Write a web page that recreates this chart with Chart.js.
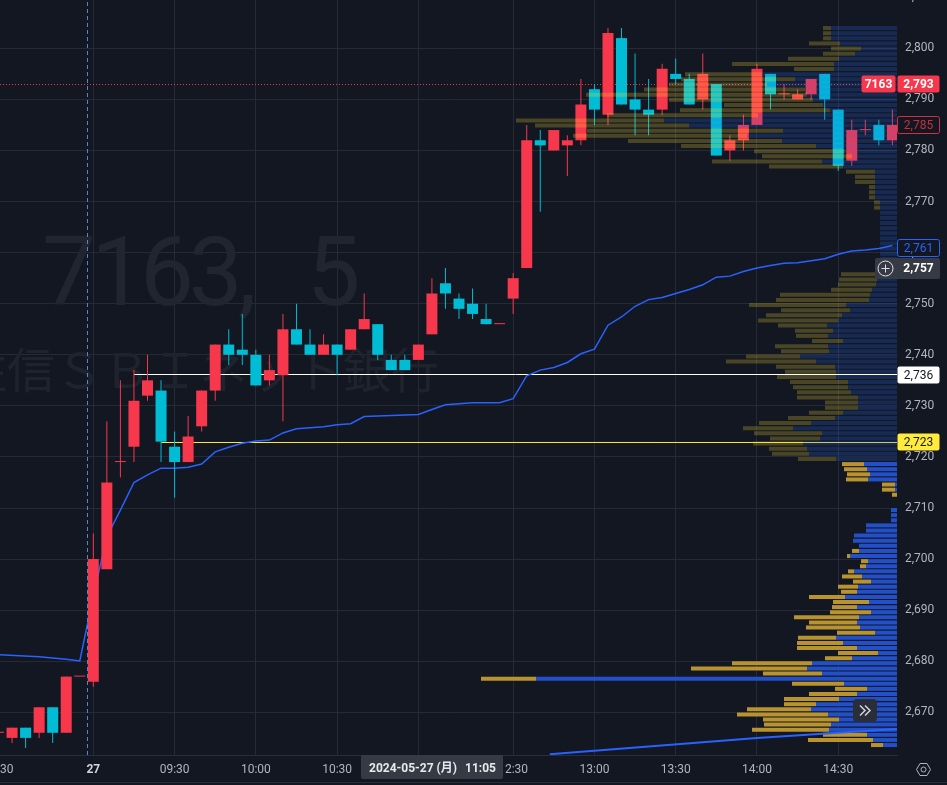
<!DOCTYPE html>
<html>
<head>
<meta charset="utf-8">
<style>
html,body{margin:0;padding:0;background:#131722;overflow:hidden}
canvas{display:block}
</style>
<script src="https://cdn.jsdelivr.net/npm/chart.js@4"></script>
</head>
<body>
<canvas id="chart" width="947" height="785"></canvas>
<script>
// 5 minute bars, index 0 is 09:00 on the 27th, first bar is index -7
var firstBar = -7;
var opens = [2666,2665,2667,2666,2671,2666,2677,
  2676,2698,2719,2722,2732,2733,2722,2719,2726,2733,2742,2741,2740,2735,2736,2745,2742,2740,2742,2741,2745,2746,2739,2739,2739,2744,2754,2751,2750,2747,2746,
  2751,2757,2782,2780,2781,2782,2792,2787,2802,2790,2788,2788,2795,2794,2790,2793,2780,2782,2785,2795,2791,2790,2791,2795,2788,2778,2784,2785,2782];
var closes = [2666,2667,2665,2671,2666,2677,2677,
  2700,2715,2719,2731,2735,2723,2719,2724,2733,2742,2740,2740,2734,2737,2745,2742,2740,2742,2740,2745,2747,2740,2737,2737,2742,2752,2752,2749,2748,2746,2746,
  2755,2782,2781,2784,2782,2789,2788,2803,2789,2788,2787,2796,2794,2789,2795,2779,2782,2785,2796,2791,2791,2791,2794,2790,2777,2784,2784,2782,2785];
var highs = [2666,2667,2667,2671,2671,2677,2677,
  2705,2727,2735,2737,2740,2735,2725,2728,2733,2742,2745,2748,2741,2740,2748,2750,2745,2744,2742,2745,2752,2746,2740,2740,2742,2755,2757,2752,2753,2750,2746,
  2756,2785,2784,2784,2783,2794,2793,2804,2804,2799,2794,2797,2798,2795,2799,2793,2783,2787,2797,2795,2793,2792,2794,2795,2788,2786,2786,2786,2788];
var lows = [2666,2664,2663,2665,2664,2666,2677,
  2675,2698,2716,2719,2731,2719,2712,2719,2725,2731,2738,2738,2734,2734,2727,2742,2740,2740,2736,2741,2745,2739,2737,2737,2739,2744,2749,2747,2747,2746,2746,
  2748,2757,2768,2780,2775,2781,2785,2785,2789,2783,2783,2787,2793,2789,2788,2779,2778,2780,2785,2788,2790,2790,2790,2786,2776,2777,2783,2781,2781];

// VWAP, previous session then this session
var vwapPrevIdx = [-6.89,-4,-2,-1,0];
var vwapPrev = [2681.3,2680.9,2680.4,2680.05,2692.8];
var vwapToday = [2692.8,2704.4,2709.6,2715,2716.5,2717.8,2717.8,2718,2718.6,2721,2721.9,2722.7,2723.1,2723.3,2724.7,2725.5,2725.7,2725.9,2726.3,2726.5,2727.9,2728,2728.1,2728.2,2728.3,2729.3,2730.2,2730.4,2730.6,2730.6,2730.6,2731.4,2735.9,2737,2737.5,2738.5,2740.2,2741.1,2745.8,2747.4,2749.5,2750.8,2751.2,2752,2752.8,2753.7,2755.2,2755.4,2756.3,2757,2757.5,2757.9,2758,2758.4,2758.8,2759.7,2760.3,2760.5,2760.8,2761.4];
var anchorIdx = [33.7,49,59,59.34];
var anchorVwap = [2661.8,2665,2666.7,2666.75];

// volume profile rows, top row first. total = buy + sell, blue = sell part
var upperTop = 2803.97, upperStep = 1.0044;
var upperTotal = [74,74,74,88,66,74,109,165,103,212,216,228,253,311,228,173,217,290,381,362,310,324,269,216,143,135,185,128,51,42,42,28,28,28,23,23,
  17,17,17,17,17,17,17,17,17,17,17,17,56,58,59,
  66,117,121,148,116,131,139,119,102,101,85,122,116,151,171,121,112,120,107,104,100,100,72,72,88,109,138,154,143,127,144,128,125,99];
var upperBlue = [66,66,66,57,36,42,58,63,63,135,102,130,92,90,84,74,67,139,233,208,114,150,115,81,52,45,75,54,22,22,22,22,22,22,17,17,
  17,17,17,17,17,17,17,17,17,17,17,17,22,20,21,
  25,27,28,51,47,55,59,70,64,69,54,69,68,97,81,62,61,61,49,49,46,39,39,39,54,62,86,104,75,77,94,90,88,61];
var lowerTop = 2718.6, lowerStep = 1;
var lowerTotal = [55,53,50,51,15,15,5,0,0,6,6,6,31,31,43,44,38,45,50,36,37,49,55,44,59,56,88,64,65,67,103,88,91,60,99,100,100,59,72,165,206,134,416,105,62,88,113,113,150,160,134,133,145,74,89,26];
var lowerBlue = [33,30,27,29,2,2,0,0,0,6,6,6,31,31,43,44,38,38,47,29,31,43,35,26,39,40,52,28,40,26,38,40,37,22,61,54,40,19,45,85,90,75,361,53,30,40,58,81,86,69,58,66,68,30,24,14];

var priceTicks = [2670,2680,2690,2700,2710,2720,2730,2740,2750,2760,2770,2780,2790,2800,2810];
var timeTicks = [-7,0,6,12,18,24,31,37,43,49,55];
var timeLabels = ['14:30','27','09:30','10:00','10:30','11:00','12:30','13:00','13:30','14:00','14:30'];

var lastPrice = 2793, prevLine = 2785, vwapPrice = 2761, crossPrice = 2757, whiteLevel = 2736, yellowLevel = 2723;
// where the level lines sit on the picture, nudged so they land on a pixel row
var lastLineAt = 2792.91, whiteLineAt = 2736.14, yellowLineAt = 2722.83;
var crossBar = -0.43;

var UP = '#f7374b', DOWN = '#00bcd4';
var barIdx = opens.map(function(o,i){ return firstBar+i; });
var candleColors = opens.map(function(o,i){ return closes[i]>=o ? UP : DOWN; });
var rightEnd = 59.34, leftEnd = -6.89, priceMax = 2809.46, priceMin = 2661.65;

function commaNum(v){ return String(v).replace(/(\d)(\d{3})$/,'$1,$2'); }

function profileRows(top,step,from,to){
  var out = [];
  from.forEach(function(v,i){
    if(v!=to[i]) out.push({y:top-i*step, x:[v,to[i]]});
  });
  return out;
}

function profileSet(data,color,order){
  return {type:'bar', indexAxis:'y', xAxisID:'xVol', yAxisID:'y', data:data, backgroundColor:color,
    barThickness:4, grouped:false, inflateAmount:0, order:order};
}
function lineSet(points,color,width,order,dash){
  return {type:'line', data:points, borderColor:color, borderWidth:width, pointRadius:0, tension:0,
    borderDash:dash||[], order:order, xAxisID:'x', yAxisID:'y', fill:false};
}
function pairs(xs,ys){ return xs.map(function(x,i){ return {x:x,y:ys[i]}; }); }

var goldDim = 'rgba(255,224,49,0.23)', blueDim = 'rgba(42,113,255,0.225)';
var goldFull = '#b8932f', blueFull = '#2350c8';
var zeros = function(a){ return a.map(function(){ return 0; }); };

var overlay = {
  id:'overlay',
  beforeDatasetsDraw:function(chart){
    var c = chart.ctx;
    c.save();
    c.fillStyle = '#21252f';
    c.textAlign = 'left';
    c.textBaseline = 'alphabetic';
    c.font = '400 96px Roboto';
    c.letterSpacing = '-5px';
    c.wordSpacing = '36px';
    c.fillText('7163, 5',42,305);
    c.letterSpacing = '0px';
    c.wordSpacing = '0px';
    c.textAlign = 'center';
    c.textBaseline = 'middle';
    c.fillStyle = '#1f232d';
    c.font = '48px "Noto Sans CJK JP"';
    c.fillText('住信ＳＢＩネット銀行',199,370);
    c.restore();
  },
  afterDraw:function(chart){
    var c = chart.ctx, y = chart.scales.y;
    function tag(text,x,w,price,fill,stroke,color,bold){
      var cy = Math.round(y.getPixelForValue(price)), h = 17;
      c.beginPath();
      c.roundRect(x+0.5,cy-h/2,w-1,h,2);
      c.fillStyle = fill;
      c.fill();
      if(stroke){ c.strokeStyle = stroke; c.lineWidth = 1; c.stroke(); }
      c.fillStyle = color;
      c.font = (bold?'bold ':'')+'12px Roboto';
      c.textAlign = 'center';
      c.textBaseline = 'middle';
      c.fillText(text,x+w/2,cy+0.5);
    }
    c.save();
    tag(commaNum(prevLine),897,43,prevLine,'#131722','#d3303f','#c5303f');
    tag(commaNum(vwapPrice),897,43,vwapPrice,'#131722','#2962ff','#2962ff');
    tag('7163',861,35,lastPrice,UP,null,'#fff',true);
    tag(commaNum(lastPrice),897,43,lastPrice,UP,null,'#fff',true);
    tag(commaNum(whiteLevel),897,43,whiteLevel,'#fff',null,'#131722');
    tag(commaNum(yellowLevel),897,43,yellowLevel,'#ffeb3b',null,'#131722');

    // crosshair price label with the plus button
    var cy = Math.round(y.getPixelForValue(crossPrice));
    c.fillStyle = '#363a45';
    c.beginPath(); c.roundRect(875,cy-10,22,21,[2,0,0,2]); c.fill();
    c.beginPath(); c.roundRect(897,cy-10,43,21,[0,2,2,0]); c.fill();
    c.fillStyle = '#fff';
    c.font = 'bold 12px Roboto';
    c.textAlign = 'center'; c.textBaseline = 'middle';
    c.fillText(commaNum(crossPrice),918.5,cy+0.5);
    c.strokeStyle = '#dfe1e6'; c.lineWidth = 1;
    c.beginPath(); c.arc(885.5,cy+0.5,7.5,0,Math.PI*2); c.stroke();
    c.beginPath(); c.moveTo(881.5,cy+0.5); c.lineTo(889.5,cy+0.5); c.moveTo(885.5,cy-3.5); c.lineTo(885.5,cy+4.5); c.stroke();

    // date label on the time axis
    c.fillStyle = '#363a45';
    c.beginPath(); c.roundRect(361,755,142,24,[0,0,2,2]); c.fill();
    c.fillStyle = '#e8e9ec';
    c.font = 'bold 12px Roboto, "Noto Sans CJK JP"';
    c.textAlign = 'left';
    c.fillText('2024-05-27 (月)',369,769);
    c.fillText('11:05',465,769);

    // scroll button
    c.fillStyle = '#2a2e39';
    c.beginPath(); c.roundRect(853,699,24,23,4); c.fill();
    c.strokeStyle = '#d1d4dc'; c.lineWidth = 1.5;
    c.beginPath();
    c.moveTo(860,705.5); c.lineTo(865,710.5); c.lineTo(860,715.5);
    c.moveTo(865,705.5); c.lineTo(870,710.5); c.lineTo(865,715.5);
    c.stroke();

    // settings icon
    c.strokeStyle = '#b2b5be'; c.lineWidth = 1;
    c.beginPath();
    c.moveTo(916.5,769.5); c.lineTo(920,763.5); c.lineTo(927,763.5); c.lineTo(930.5,769.5); c.lineTo(927,775.5); c.lineTo(920,775.5); c.closePath();
    c.stroke();
    c.beginPath(); c.arc(923.5,769.5,2.5,0,Math.PI*2); c.stroke();

    // bottom frame
    c.strokeStyle = '#2a2e39';
    c.beginPath(); c.moveTo(0,782.5); c.lineTo(947,782.5); c.stroke();
    c.restore();
  }
};

new Chart(document.getElementById('chart'),{
  data:{
    datasets:[
      lineSet([{x:leftEnd,y:lastLineAt},{x:rightEnd,y:lastLineAt}],UP,1,9,[1,2]),
      lineSet([{x:3,y:whiteLineAt},{x:rightEnd,y:whiteLineAt}],'#ffffff',1,8),
      lineSet([{x:5,y:yellowLineAt},{x:rightEnd,y:yellowLineAt}],'#ffeb3b',1,8),
      lineSet(pairs(vwapPrevIdx,vwapPrev),'#2962ff',1.5,7),
      lineSet(vwapToday.map(function(v,i){ return {x:i,y:v}; }),'#2962ff',1.5,7),
      {type:'bar', xAxisID:'x', yAxisID:'y', order:6, grouped:false, barThickness:1, inflateAmount:0,
        data:barIdx.map(function(x,i){ return {x:x,y:[lows[i],highs[i]]}; }), backgroundColor:candleColors},
      {type:'bar', xAxisID:'x', yAxisID:'y', order:5, grouped:false, barThickness:11, inflateAmount:0, minBarLength:1,
        data:barIdx.map(function(x,i){ return {x:x,y:[opens[i],closes[i]]}; }), backgroundColor:candleColors},
      profileSet(profileRows(upperTop,upperStep,upperBlue,upperTotal),goldDim,4),
      profileSet(profileRows(upperTop,upperStep,zeros(upperBlue),upperBlue),blueDim,4),
      profileSet(profileRows(lowerTop,lowerStep,lowerBlue,lowerTotal),goldFull,3),
      profileSet(profileRows(lowerTop,lowerStep,zeros(lowerBlue),lowerBlue),blueFull,3),
      lineSet(pairs(anchorIdx,anchorVwap),'#2962ff',2,2),
      lineSet([{x:crossBar,y:priceMin},{x:crossBar,y:priceMax}],'#5b86cc',1,1,[4,3])
    ]
  },
  options:{
    responsive:false,
    animation:false,
    layout:{padding:0,autoPadding:false},
    plugins:{legend:{display:false},tooltip:{enabled:false}},
    events:[],
    scales:{
      x:{
        type:'linear', position:'bottom', min:leftEnd, max:rightEnd, offset:false,
        grid:{color:'#252a36',drawTicks:false,offset:false},
        border:{color:'#2a2e39'},
        afterBuildTicks:function(s){ s.ticks = timeTicks.map(function(v){ return {value:v}; }); },
        afterFit:function(s){ s.height = 30; s.paddingLeft = 0; s.paddingRight = 0; },
        ticks:{
          autoSkip:false, maxRotation:0, padding:8,
          color:function(ctx){ return ctx.tick && ctx.tick.value===0 ? '#d1d4dc' : '#b2b5be'; },
          font:function(ctx){ return {family:'Roboto',size:12,weight:ctx.tick && ctx.tick.value===0 ? 'bold' : 'normal'}; },
          callback:function(v){ return timeLabels[timeTicks.indexOf(v)]; }
        }
      },
      xVol:{type:'linear', axis:'x', display:false, min:0, max:897, reverse:true, offset:false, grid:{offset:false}},
      y:{
        type:'linear', position:'right', min:priceMin, max:priceMax, offset:false,
        grid:{color:'#252a36',drawTicks:false,offset:false},
        border:{display:false},
        afterBuildTicks:function(s){ s.ticks = priceTicks.map(function(v){ return {value:v}; }); },
        afterFit:function(s){ s.width = 50; s.paddingTop = 0; s.paddingBottom = 0; },
        ticks:{
          autoSkip:false, padding:8, color:'#b2b5be', font:{family:'Roboto',size:12},
          callback:function(v){ return commaNum(v); }
        }
      }
    }
  },
  plugins:[overlay]
});
</script>
</body>
</html>
